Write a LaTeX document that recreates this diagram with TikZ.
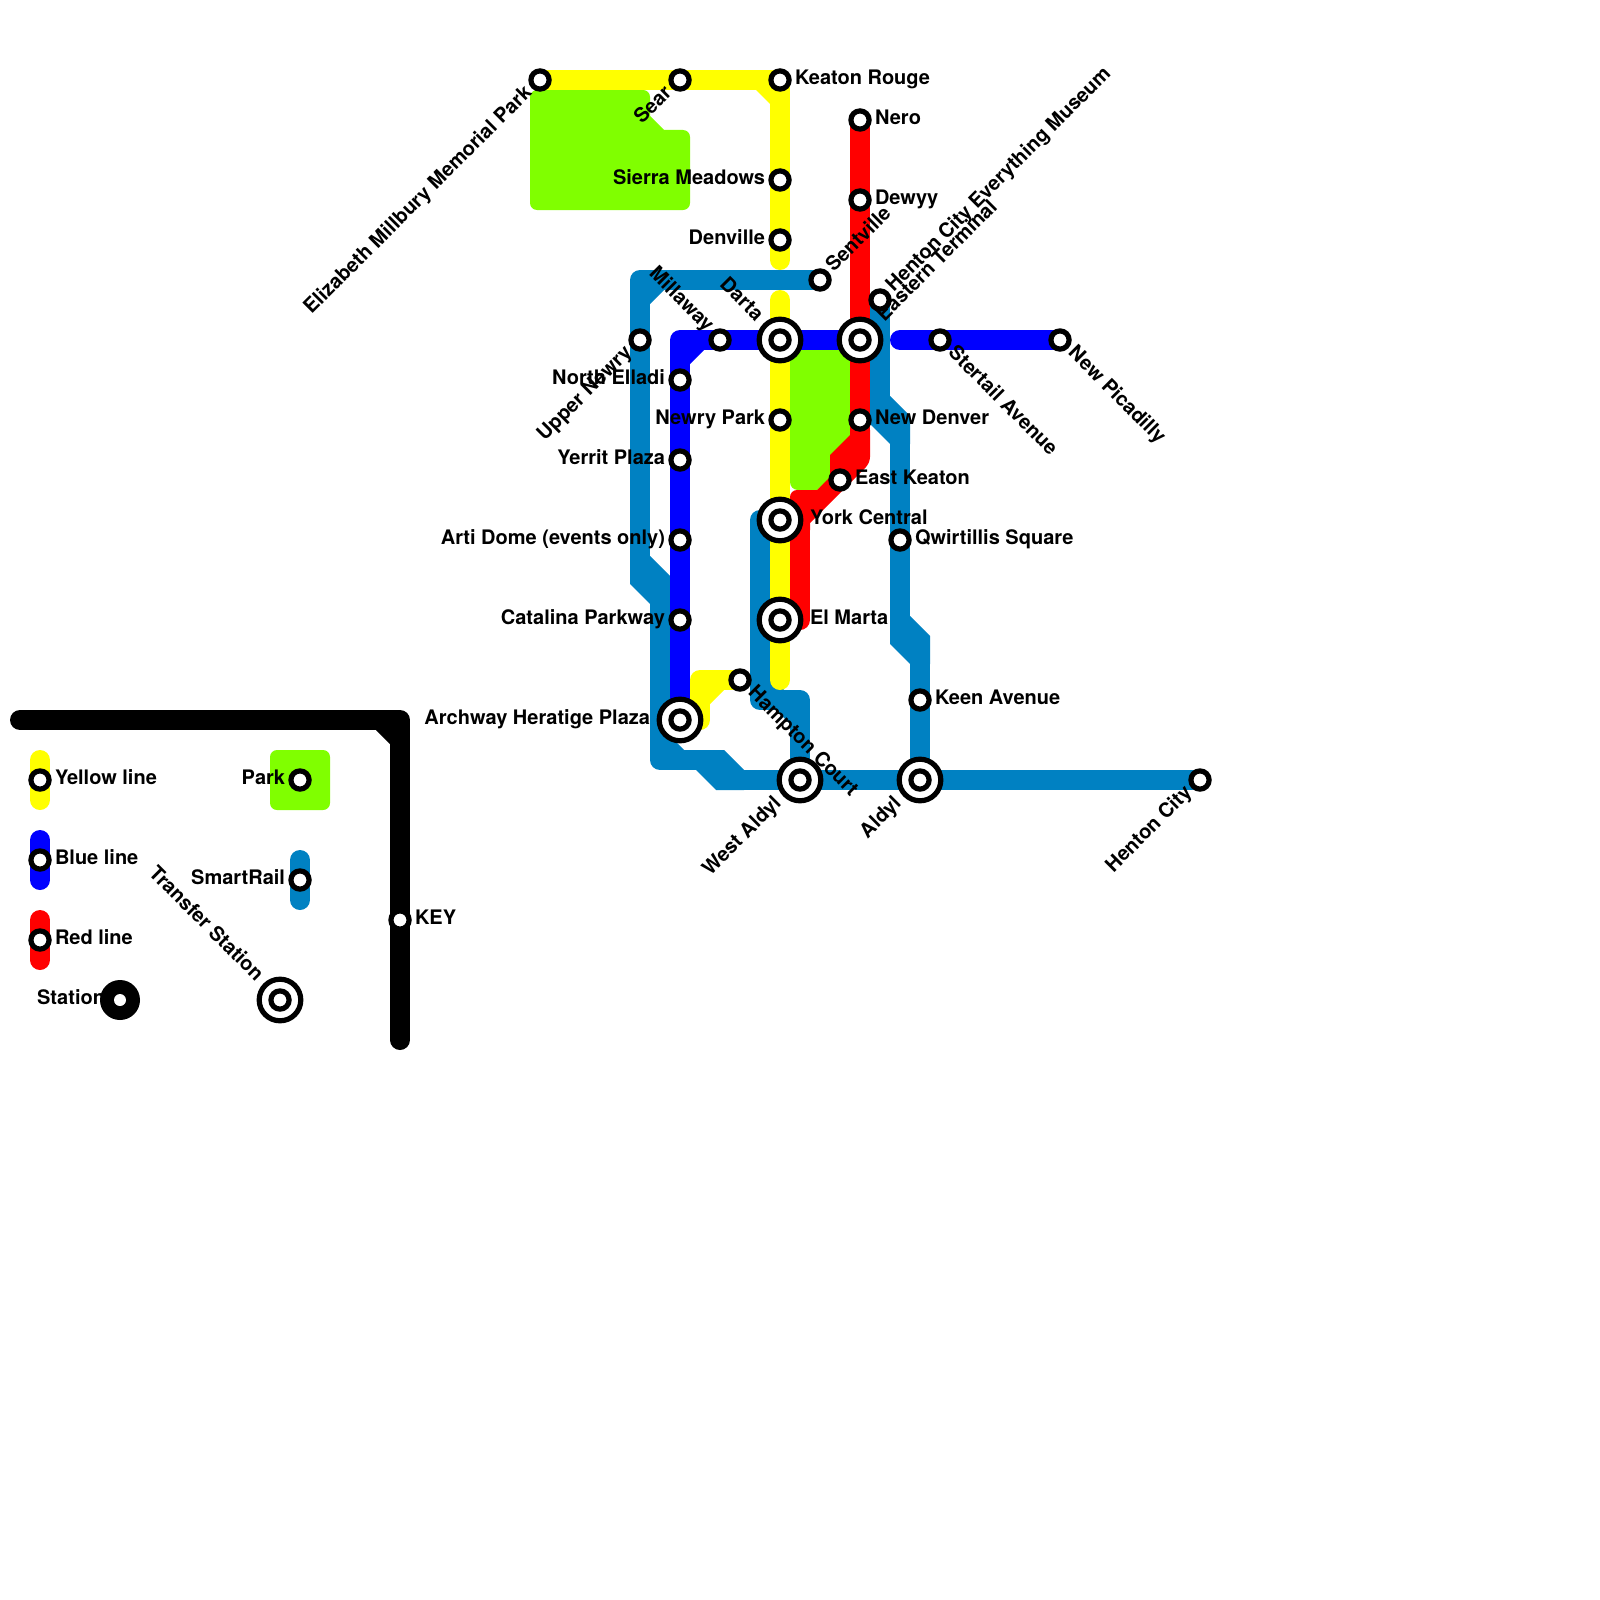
\documentclass[tikz,border=0pt]{standalone}
\usepackage{fontspec}
\setmainfont{TeX Gyre Heros}
\usetikzlibrary{calc}
\definecolor{lyellow}{HTML}{FFFF00}
\definecolor{lblue}{HTML}{0000FF}
\definecolor{lred}{HTML}{FF0000}
\definecolor{lsmart}{HTML}{0081C2}
\definecolor{lpark}{HTML}{80FF00}
\tikzset{
  railline/.style={line width=20pt,line cap=round,line join=round},
  keyline/.style={railline,black},
  yline/.style={railline,lyellow},
  bline/.style={railline,lblue},
  rline/.style={railline,lred},
  sline/.style={railline,lsmart},
  stn/.style={circle,draw=black,fill=white,line width=5.2pt,minimum size=18.2pt,inner sep=0pt},
  xfer/.style={circle,draw=black,fill=white,line width=5.2pt,minimum size=41.6pt,inner sep=0pt},
  lbl/.style={inner sep=0pt,outer sep=0pt,text=black,font=\fontsize{20}{22}\selectfont\bfseries},
}
% text after the station: name, angle, offset, text
\newcommand{\labW}[4]{%
  \pgfmathsetmacro\ldx{#3*cos(#2)+4.7*sin(#2)}%
  \pgfmathsetmacro\ldy{-#3*sin(#2)+4.7*cos(#2)}%
  \node[lbl,rotate=#2,anchor=base west] (t#1) at ($(#1)+(\ldx,\ldy)$) {#4};}
% text before the station
\newcommand{\labE}[4]{%
  \pgfmathsetmacro\ldx{-#3*cos(#2)+4.7*sin(#2)}%
  \pgfmathsetmacro\ldy{#3*sin(#2)+4.7*cos(#2)}%
  \node[lbl,rotate=#2,anchor=base east] (t#1) at ($(#1)+(\ldx,\ldy)$) {#4};}
% inner corner chamfer: colour, corner x, y, leg x, leg y
\newcommand{\chamf}[5]{\fill[#1] (#2,#3) -- ++(#4,0) -- (#2,#3+#5) -- cycle;}
% vertical line stepping 20 to the right
\newcommand{\jogV}[3]{\fill[#1] (#2-10,#3-14) -- (#2+10,#3-14) -- (#2+30,#3+6) -- (#2+30,#3+34) -- (#2+10,#3+34) -- (#2-10,#3+14) -- cycle;}
% horizontal line stepping 20 down
\newcommand{\jogH}[3]{\fill[#1] (#2-14,#3-10) -- (#2+14,#3-10) -- (#2+34,#3+10) -- (#2+34,#3+30) -- (#2+6,#3+30) -- (#2-14,#3+10) -- cycle;}
\newcommand{\stnat}[1]{\node[stn] (n#1) at (#1) {};}
\newcommand{\xferat}[1]{\node[xfer] (x#1) at (#1) {}; \node[stn] (n#1) at (#1) {};}
\begin{document}
\begin{tikzpicture}[x=1pt,y=-1pt]
\useasboundingbox (0,0) rectangle (1600,1600);
\fill[white] (0,0) rectangle (1600,1600);
% station positions
\foreach \n/\x/\y in {eliz/540/80,sear/680/80,keaton/780/80,sierra/780/180,denville/780/240,
  darta/780/340,newrypark/780/420,york/780/520,elmarta/780/620,
  nero/860/120,dewyy/860/200,eastern/860/340,newdenver/860/420,eastkeaton/840/480,
  sentville/820/280,museum/880/300,uppernewry/640/340,
  millaway/720/340,northelladi/680/380,yerrit/680/460,arti/680/540,catalina/680/620,archway/680/720,
  stertail/940/340,picadilly/1060/340,qwirt/900/540,keen/920/700,hampton/740/680,
  westaldyl/800/780,aldyl/920/780,hentoncity/1200/780,
  keyy/40/780,keyb/40/860,keyr/40/940,keys/120/1000,keyx/280/1000,keypark/300/780,keysmart/300/880,keykey/400/920,
  yA/780/260,yB/780/300,yC/780/680,yD/700/680,yE/700/720,
  bA/680/340,bB/900/340,
  rA/860/450,rB/800/500,rC/800/620,
  sA/640/280,sB/640/570,sC/660/590,sD/660/760,sE/710/760,sF/730/780,
  sG/880/410,sH/900/430,sI/900/630,sJ/920/650,
  sK/760/520,sL/760/700,sM/800/700,
  kA/20/720,kB/400/720,kC/400/1040,
  lyA/40/760,lyB/40/800,lbA/40/840,lbB/40/880,lrA/40/920,lrB/40/960,lsA/300/860,lsB/300/900}
  {\coordinate (\n) at (\x,\y);}
% parks
\fill[lpark,rounded corners=7pt] (530,90) -- (650,90) [sharp corners] -- (650,116) -- (664,130) [rounded corners=7pt] -- (690,130) -- (690,210) -- (530,210) -- cycle;
\fill[lpark] (790,350) -- (850,350) -- (850,440) -- (830,460) -- (830,478) -- (817,490) [rounded corners=8pt] -- (790,490) [sharp corners] -- cycle;
\fill[lpark,rounded corners=7pt] (270,750) rectangle (330,810);
% smartrail
\jogV{lsmart}{640}{570}
\jogH{lsmart}{710}{760}
\jogV{lsmart}{880}{410}
\jogV{lsmart}{900}{630}
\draw[sline] (sentville) -- (sA) -- (uppernewry) -- (sB);
\draw[sline] (sC) -- (sD) -- (sE);
\draw[sline] (sF) -- (westaldyl) -- (aldyl) -- (hentoncity);
\draw[sline] (museum) -- (sG);
\draw[sline] (sH) -- (qwirt) -- (sI);
\draw[sline] (sJ) -- (keen) -- (aldyl);
\draw[sline] (sK) -- (sL) -- (sM) -- (westaldyl);
\chamf{lsmart}{650}{290}{14}{14}
\chamf{lsmart}{670}{750}{14}{-14}
\chamf{lsmart}{770}{690}{14}{-14}
\chamf{lsmart}{790}{710}{-14}{14}
% blue
\draw[bline] (eastern) -- (darta) -- (millaway) -- (bA) -- (northelladi) -- (yerrit) -- (arti) -- (catalina) -- (archway);
\draw[bline] (bB) -- (stertail) -- (picadilly);
\chamf{lblue}{690}{350}{14}{14}
% yellow
\draw[yline] (eliz) -- (sear) -- (keaton) -- (sierra) -- (denville) -- (yA);
\draw[yline] (yB) -- (darta) -- (newrypark) -- (york) -- (elmarta) -- (yC);
\draw[yline] (hampton) -- (yD) -- (yE);
\chamf{lyellow}{770}{90}{-14}{14}
\chamf{lyellow}{710}{690}{14}{14}
% red
\fill[lred] (850,430) -- (850,435) -- (830,455) -- (830,477) -- (817,490) [rounded corners=7pt] -- (790,490) [sharp corners] -- (790,530) -- (810,530) -- (810,523) [rounded corners=6pt] -- (870,463) [sharp corners] -- (870,430) -- cycle;
\draw[rline] (nero) -- (dewyy) -- (eastern) -- (newdenver) -- (rA);
\draw[rline] (rB) -- (rC);
% key
\draw[keyline] (kA) -- (kB) -- (keykey) -- (kC);
\chamf{black}{390}{730}{-14}{14}
\draw[yline] (lyA) -- (lyB);
\draw[bline] (lbA) -- (lbB);
\draw[rline] (lrA) -- (lrB);
\draw[sline] (lsA) -- (lsB);
% labels
\labE{eliz}{45}{15}{Elizabeth Millbury Memorial Park}
\labE{sear}{45}{15}{Sear}
\labW{keaton}{0}{15}{Keaton Rouge}
\labE{sierra}{0}{15}{Sierra Meadows}
\labE{denville}{0}{15}{Denville}
\labE{darta}{-45}{30}{Darta}
\labE{newrypark}{0}{15}{Newry Park}
\labW{york}{0}{30}{York Central}
\labW{elmarta}{0}{30}{El Marta}
\labW{nero}{0}{15}{Nero}
\labW{dewyy}{0}{15}{Dewyy}
\labW{eastern}{45}{30}{Eastern Terminal}
\labW{newdenver}{0}{15}{New Denver}
\labW{eastkeaton}{0}{15}{East Keaton}
\labW{sentville}{45}{15}{Sentville}
\labW{museum}{45}{15}{Henton City Everything Museum}
\labE{uppernewry}{45}{15}{Upper Newry}
\labE{millaway}{-45}{15}{Millaway}
\labE{northelladi}{0}{15}{North Elladi}
\labE{yerrit}{0}{15}{Yerrit Plaza}
\labE{arti}{0}{15}{Arti Dome (events only)}
\labE{catalina}{0}{15}{Catalina Parkway}
\labE{archway}{0}{30}{Archway Heratige Plaza}
\labW{stertail}{-45}{15}{Stertail Avenue}
\labW{picadilly}{-45}{15}{New Picadilly}
\labW{qwirt}{0}{15}{Qwirtillis Square}
\labW{keen}{0}{15}{Keen Avenue}
\labW{hampton}{-45}{15}{Hampton Court}
\labE{westaldyl}{45}{30}{West Aldyl}
\labE{aldyl}{45}{30}{Aldyl}
\labE{hentoncity}{45}{15}{Henton City}
\labW{keyy}{0}{15}{Yellow line}
\labW{keyb}{0}{15}{Blue line}
\labW{keyr}{0}{15}{Red line}
\labE{keys}{0}{15}{Station}
\labE{keyx}{-45}{30}{Transfer Station}
\labE{keypark}{0}{15}{Park}
\labE{keysmart}{0}{15}{SmartRail}
\labW{keykey}{0}{15}{KEY}
% stations
\foreach \n in {eliz,sear,keaton,sierra,denville,newrypark,nero,dewyy,newdenver,eastkeaton,sentville,museum,uppernewry,millaway,northelladi,yerrit,arti,catalina,stertail,picadilly,qwirt,keen,hampton,hentoncity,keyy,keyb,keyr,keypark,keysmart,keykey}
  {\stnat{\n}}
\foreach \n in {darta,york,elmarta,eastern,archway,westaldyl,aldyl,keyx}
  {\xferat{\n}}
\node[circle,fill=black,minimum size=40pt,inner sep=0pt] (nkeysouter) at (keys) {};
\node[circle,fill=white,minimum size=12pt,inner sep=0pt] (nkeysinner) at (keys) {};
\end{tikzpicture}
\end{document}
